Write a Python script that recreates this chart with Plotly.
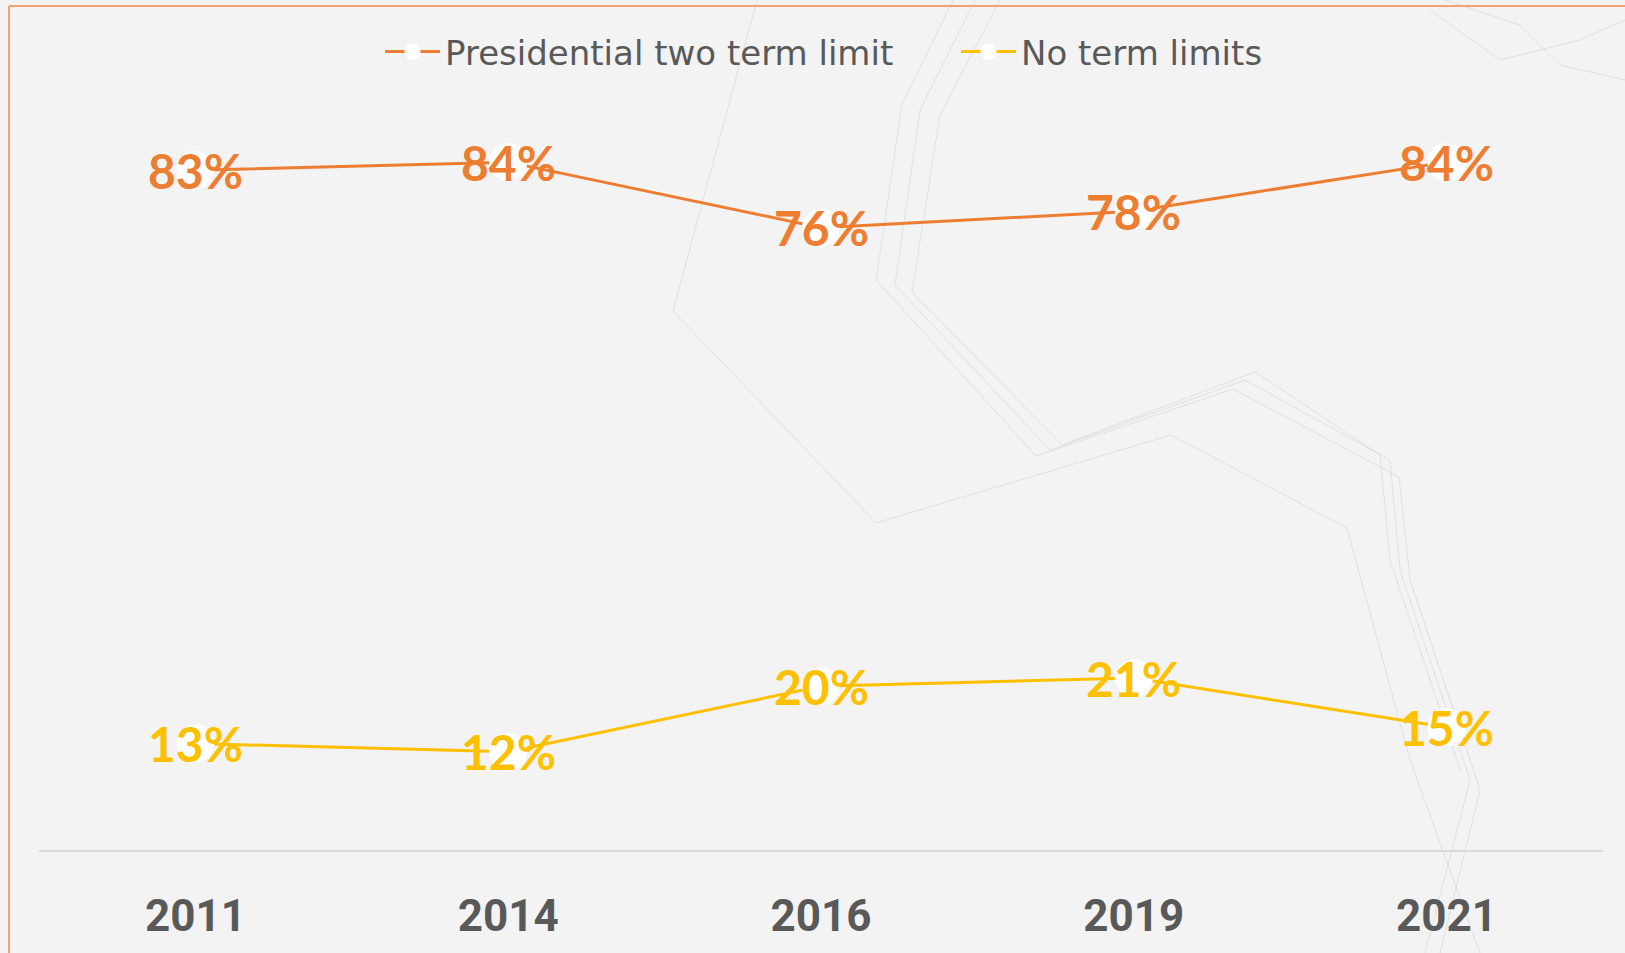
import plotly.graph_objects as go

years = ["2011", "2014", "2016", "2019", "2021"]
two_term = [83, 84, 76, 78, 84]
no_limits = [13, 12, 20, 21, 15]
series_names = ["Presidential two term limit", "No term limits"]
colors = ["#ED7D31", "#FFC000"]

W, H = 1625, 953
L, R, T, B = 39, 22, 113, 103
PW, PH = W - L - R, H - T - B

def px(x, y):
    return ((x - L) / PW, 1 - (y - T) / PH)

fig = go.Figure()
annotations = []
for name, vals, col in zip(series_names, [two_term, no_limits], colors):
    fig.add_trace(go.Scatter(
        x=years, y=vals, name=name, mode="lines+markers",
        line=dict(color=col, width=3),
        marker=dict(color="white", size=38, line=dict(width=0)),
    ))
    for i, v in enumerate(vals):
        annotations.append(dict(x=i, y=v, xref="x", yref="y", text=f"{v}%", showarrow=False,
                                xanchor="center", yanchor="middle", yshift=0,
                                font=dict(family="Lato", size=48, color=col, weight="bold")))

# faint decorative background strokes
deco = [
    [(757, 0), (673, 311), (876, 523), (1171, 435), (1347, 528), (1410, 760), (1480, 953)],
    [(953, 0), (902, 104), (876, 280), (1036, 456), (1233, 389), (1399, 477), (1410, 580), (1480, 790), (1440, 953)],
    [(975, 0), (920, 110), (895, 285), (1050, 450), (1245, 380), (1390, 460), (1400, 570), (1470, 780), (1425, 953)],
    [(1000, 0), (940, 115), (912, 292), (1062, 445), (1255, 372), (1380, 455), (1390, 560), (1460, 770)],
    [(1445, 0), (1520, 25), (1560, 65), (1625, 80)],
    [(1430, 10), (1500, 60), (1580, 40), (1625, 20)],
]
shapes = []
for pts in deco:
    p = [px(a, b) for a, b in pts]
    path = "M " + " L ".join(f"{a:.4f},{b:.4f}" for a, b in p)
    shapes.append(dict(type="path", path=path, xref="paper", yref="paper",
                       line=dict(color="rgba(150,150,150,0.2)", width=1), layer="below"))
# slide frame edges (orange)
shapes.append(dict(type="line", xref="paper", yref="paper", x0=px(9, 6)[0], y0=px(9, 6)[1],
                   x1=px(W, 6)[0], y1=px(W, 6)[1], line=dict(color="#F4A26E", width=2), layer="above"))
shapes.append(dict(type="line", xref="paper", yref="paper", x0=px(9, 6)[0], y0=px(9, 6)[1],
                   x1=px(9, H)[0], y1=px(9, H)[1], line=dict(color="#F4A26E", width=2), layer="above"))

fig.update_layout(
    width=W, height=H,
    margin=dict(l=L, r=R, t=T, b=B),
    paper_bgcolor="#F3F3F3", plot_bgcolor="#F3F3F3",
    showlegend=True,
    legend=dict(orientation="h", x=px(380, 0)[0], xanchor="left", y=px(0, 52)[1], yanchor="middle",
                font=dict(family="DejaVu Sans", size=34, color="#595959"),
                bgcolor="rgba(0,0,0,0)", itemwidth=55, traceorder="normal",
                entrywidthmode="pixels", entrywidth=506),
    shapes=shapes,
    annotations=annotations,
    xaxis=dict(type="category", range=[-0.5, 4.5], showgrid=False, zeroline=False, showline=True,
               linecolor="#D9D9D9", linewidth=2, ticks="", ticklabelstandoff=26,
               tickfont=dict(family="Roboto", size=44, color="#595959", weight="bold")),
    yaxis=dict(range=[0, 90], visible=False, showgrid=False, zeroline=False),
)
fig.write_html("out.html", config={"displayModeBar": False},
               post_script="document.body.style.margin='0';")
